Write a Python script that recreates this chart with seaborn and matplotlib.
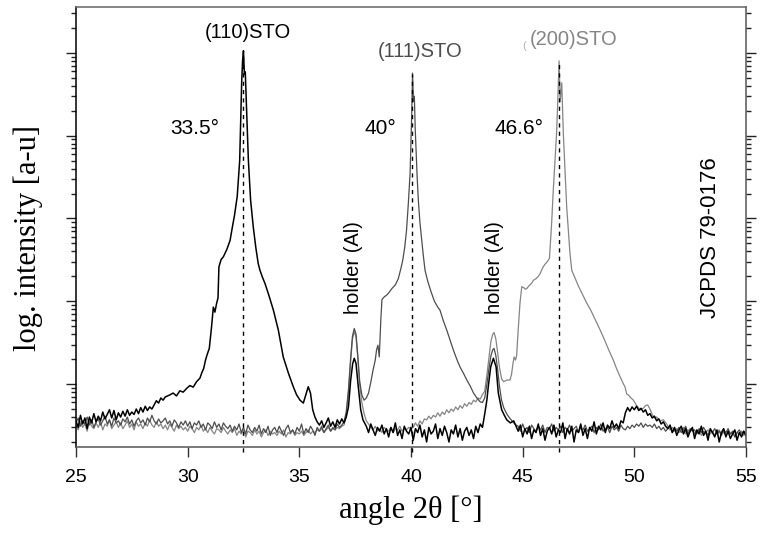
"""
XRD scans of the three STO films (log intensity) with JCPDS positions marked.
"""

import numpy as np
import matplotlib
matplotlib.use("Agg")
import matplotlib.pyplot as plt
import seaborn as sns
from matplotlib.ticker import LogLocator, MultipleLocator, NullFormatter

STEP = 0.1  # step of the flat background runs [deg]

# --- (110) film, black trace ---
black_bg1 = [3.6, 3.0, 4.2, 3.3, 3.9, 2.9, 4.0, 3.4, 4.4, 3.5,
             4.1, 3.6, 4.6, 3.8, 4.3, 4.9, 3.9, 4.8, 3.7, 4.5,
             4.0, 4.7, 4.1, 4.9, 4.2, 4.6, 4.3, 5.0, 4.4, 5.2,
             4.6, 5.4, 4.8, 5.3, 5.0, 5.6, 6.3, 5.9, 6.8, 6.4, 7.0]   # 25.0 - 29.0
black_peak_tt = [29.2, 29.35, 29.5, 29.65, 29.8, 29.96, 30.1, 30.25, 30.4, 30.55,
                 30.63, 30.72, 30.8, 30.88, 30.97, 31.07, 31.12, 31.15, 31.22, 31.3,
                 31.36, 31.4, 31.5, 31.6, 31.75, 31.9, 32.0, 32.1, 32.22, 32.33,
                 32.37, 32.42, 32.46, 32.5, 32.54, 32.58, 32.62, 32.67, 32.72, 32.82,
                 32.94, 33.05, 33.16, 33.24, 33.35, 33.46, 33.65, 33.84, 34.06, 34.28,
                 34.51, 34.73, 34.88, 35.03, 35.18, 35.33, 35.4, 35.5, 35.6, 35.7,
                 35.8]
black_peak_int = [7.4, 7.8, 7.2, 8.3, 8.0, 8.9, 9.6, 9.2, 10.7, 11.8,
                  13.6, 15.5, 19.5, 23, 27, 49, 70, 85, 74, 95,
                  110, 260, 320, 345, 420, 543, 780, 1100, 1850, 5000,
                  12900, 44800, 80000, 106000, 55000, 59000, 30000, 12000, 5000, 1650,
                  785, 450, 285, 236, 195, 165, 115, 78, 45, 21.3,
                  13.6, 9.3, 7.4, 6.4, 5.9, 8.1, 9.3, 7.8, 4.9, 4.0,
                  3.5]
black_bg2 = [3.2, 3.6, 3.0, 3.4, 3.9, 3.1, 3.5, 3.0, 3.7, 3.3, 3.8, 3.4]   # 35.9 - 37.0
black_h1_tt = [37.1, 37.2, 37.3, 37.39, 37.46, 37.54, 37.64, 37.75, 37.85]
black_h1_int = [4.0, 5.3, 11.2, 17.7, 20.5, 17.7, 9.3, 4.9, 3.7]
black_bg3 = [3.1, 2.6, 3.3, 2.8, 2.4, 3.0, 2.7, 3.2, 2.5, 2.9,
             2.3, 3.0, 2.6, 3.4, 2.4, 2.8, 2.2, 3.1, 2.7, 2.5,
             3.0, 2.1, 2.9, 2.6, 3.2, 2.3, 2.8, 2.0, 3.0, 2.5,
             2.7, 3.3, 2.2, 2.9, 2.4, 3.1, 2.6, 2.0, 2.8, 2.5,
             3.2, 2.3, 2.9, 2.1, 2.7, 3.0, 2.4, 2.8, 2.2, 3.1,
             2.6, 3.3, 3.0]   # 38.0 - 43.2
black_h2_tt = [43.31, 43.4, 43.46, 43.57, 43.69, 43.81, 43.91, 44.06, 44.18, 44.29,
               44.45, 44.6, 44.73]
black_h2_int = [4.5, 6.5, 9.3, 16.2, 20.5, 16.2, 7.8, 4.9, 4.2, 3.7,
                3.4, 3.6, 3.0]
black_bg4 = [2.7, 3.2, 2.3, 2.9, 2.5, 3.1, 2.2, 2.8, 2.6, 3.3,
             2.4, 2.9, 2.1, 2.7, 3.0, 2.5, 3.2, 2.3, 2.8, 2.6,
             3.4, 2.2, 2.9, 2.5, 3.1, 2.0, 2.8, 2.6, 3.3, 2.4,
             2.9, 2.2, 3.0, 2.7, 3.5, 2.5, 3.1, 2.8, 3.4, 2.6,
             3.2, 2.9, 3.6, 3.0, 3.3, 2.9, 3.6, 3.4]   # 44.8 - 49.5
black_bump = [4.5, 5.2, 4.7, 5.3, 4.9, 5.4, 4.8, 5.1, 4.6, 4.9,
              4.2, 4.4, 3.9, 4.1, 3.6, 3.8, 3.3, 3.5, 3.1]   # 49.6 - 51.4
black_bg5 = [2.9, 3.2, 2.6, 3.0, 2.4, 2.8, 3.1, 2.5, 2.9, 2.3,
             2.7, 3.0, 2.2, 2.8, 2.5, 3.1, 2.4, 2.7, 2.1, 2.9,
             2.6, 2.3, 2.8, 2.0, 2.6, 2.9, 2.3, 2.7, 2.2, 2.5,
             2.8, 2.1, 2.6, 2.3, 2.7, 2.4]   # 51.5 - 55.0

# --- (111) film, dark grey trace ---
g111_bg1 = [3.4, 3.9, 3.1, 3.6, 3.3, 4.0, 3.2, 3.7, 3.0, 3.5,
            3.8, 3.2, 3.6, 4.1, 3.3, 3.7, 3.1, 3.9, 3.4, 3.6,
            3.2, 3.8, 3.5, 4.0, 3.3, 3.7, 3.1, 3.6, 3.9, 3.4,
            3.7, 3.2, 3.9, 3.5, 4.2, 3.6, 3.3, 3.8, 3.4, 3.6,
            3.9, 3.3, 3.6, 3.1, 3.7, 3.4, 3.0, 3.5, 3.2, 3.6,
            3.1, 3.5, 2.9, 3.4, 3.2, 3.6, 3.0, 3.3, 2.8, 3.4,
            3.2, 2.9, 3.5, 3.0, 3.3, 2.8, 3.4, 3.1, 2.9, 3.2,
            2.7, 3.1, 2.8, 3.3, 2.6, 3.0, 2.5, 3.2, 2.8, 2.6,
            3.0, 2.7, 3.2, 2.5, 2.9, 2.6, 3.1, 2.4, 2.8, 3.0,
            2.6, 3.1, 2.7, 2.4, 2.9, 3.2, 2.6, 2.8, 2.5, 3.0,
            2.7, 3.3, 2.5, 2.9, 2.6, 3.1, 2.8, 2.4, 3.0, 2.7,
            3.1, 2.6, 2.9, 3.2, 2.7, 3.0, 2.8, 3.3, 3.0, 3.2]   # 25.0 - 36.9
g111_peak_tt = [37.0, 37.1, 37.2, 37.3, 37.38, 37.46, 37.54, 37.62, 37.7, 37.8,
                37.9, 38.0, 38.1, 38.2, 38.3, 38.4, 38.46, 38.52, 38.58, 38.65,
                38.7, 38.8, 38.9, 39.0, 39.14, 39.3, 39.43, 39.55, 39.63, 39.72,
                39.8, 39.88, 39.96, 40.0, 40.03, 40.07, 40.11, 40.15, 40.19, 40.23,
                40.28, 40.33, 40.4, 40.48, 40.55, 40.63, 40.75, 40.9, 41.05, 41.2,
                41.3, 41.45, 41.6, 41.75, 41.9, 42.05, 42.2, 42.35, 42.5, 42.65,
                42.8, 42.95, 43.1, 43.2, 43.3, 43.4, 43.5, 43.58, 43.66, 43.72,
                43.8, 43.88, 43.96, 44.05, 44.15, 44.3, 44.45, 44.6, 44.7]
g111_peak_int = [3.5, 4.6, 8.5, 21, 38, 47, 40, 22, 11, 7.4,
                 6.4, 6.8, 7.8, 10.5, 14.7, 19.5, 26, 29.5, 21.3, 60,
                 105, 113, 118, 126, 142, 158, 187, 250, 312, 450,
                 716, 1500, 3500, 9000, 17000, 57000, 26000, 30000, 12000, 6600,
                 3000, 1650, 900, 543, 360, 236, 175, 130, 100, 85,
                 78, 58, 45, 34, 25.7, 20, 16, 13.5, 11.2, 9.5,
                 7.8, 6.8, 6.1, 6.0, 6.8, 10, 16, 22, 26, 27,
                 22, 15, 9.5, 6.5, 5.2, 4.3, 3.8, 3.4, 3.2]
g111_bg2 = [3.1, 2.7, 3.3, 2.8, 3.0, 2.6, 3.2, 2.9, 2.7, 3.1,
            2.8, 3.2, 2.6, 3.0, 2.9, 3.3, 2.7, 3.0, 2.8, 3.1,
            2.6, 3.0, 2.8, 3.2, 2.7, 2.9, 3.1, 2.6, 3.0, 2.8,
            3.2, 2.7, 2.9, 3.1, 2.6, 3.0, 2.8, 3.3, 2.7, 2.9,
            3.0, 2.6, 3.1, 2.8, 3.0, 2.7, 3.2, 2.9, 2.8, 3.1,
            2.9, 3.2, 3.0, 3.3, 3.1, 3.4, 3.0, 3.3, 3.1, 3.2,
            3.0, 3.3, 2.9, 3.1, 2.8, 3.0, 2.7, 2.9, 3.1, 2.6,
            2.9, 2.7, 3.0, 2.6, 2.8, 3.1, 2.5, 2.9, 2.7, 2.8,
            2.5, 2.9, 2.6, 3.0, 2.7, 2.4, 2.8, 2.6, 2.9, 2.5,
            2.7, 2.4, 2.8, 2.6, 2.9, 2.5, 2.7, 2.3, 2.6, 2.8,
            2.5, 2.7, 2.4]   # 44.8 - 55.0

# --- (200) film, light grey trace ---
g200_bg1 = [3.2, 2.8, 3.5, 3.0, 3.3, 2.7, 3.6, 3.1, 2.9, 3.4,
            3.0, 3.5, 2.8, 3.3, 3.1, 3.7, 2.9, 3.2, 3.5, 3.0,
            3.4, 2.9, 3.2, 3.6, 3.0, 3.3, 2.8, 3.5, 3.1, 3.3,
            2.9, 3.4, 3.1, 3.7, 3.2, 3.0, 3.5, 3.1, 3.3, 2.9,
            3.2, 2.8, 3.3, 3.0, 2.7, 3.2, 2.9, 3.1, 2.8, 3.0,
            2.7, 3.1, 2.9, 2.6, 3.0, 2.8, 3.2, 2.7, 2.9, 2.6,
            3.0, 2.7, 2.5, 2.9, 2.8, 2.6, 3.0, 2.7, 2.5, 2.8,
            2.6, 2.9, 2.4, 2.7, 2.5, 2.8, 2.3, 2.7, 2.6, 2.4,
            2.8, 2.5, 2.7, 2.3, 2.6, 2.8, 2.4, 2.7, 2.5, 2.6,
            2.4, 2.7, 2.5, 2.8, 2.3, 2.6, 2.5, 2.8, 2.4, 2.6,
            2.5, 2.7, 2.4, 2.6, 2.8, 2.5, 2.7, 2.6, 2.8, 2.7,
            2.9, 2.6, 2.8, 3.0, 2.7, 2.9, 2.8, 3.0, 2.9, 3.1]   # 25.0 - 36.9
g200_h1_tt = [37.0, 37.1, 37.2, 37.3, 37.38, 37.46, 37.54, 37.62, 37.7, 37.8,
              37.9, 38.0, 38.1, 38.2]
g200_h1_int = [3.2, 4.2, 8.0, 19, 35, 43, 37, 20, 10, 6.0,
               4.4, 3.6, 3.3, 3.0]
g200_bg2 = [2.8, 3.1, 2.7, 2.9, 2.6, 3.0, 2.8, 2.7, 3.0, 2.6,
            2.9, 2.8, 3.1, 2.7, 2.9, 2.8, 3.0, 2.9]   # 38.3 - 40.0
g200_peak_tt = [40.1, 40.2, 40.3, 40.4, 40.5, 40.6, 40.7, 40.8, 40.9, 41.0,
                41.1, 41.2, 41.3, 41.4, 41.5, 41.6, 41.7, 41.8, 41.9, 42.0,
                42.1, 42.2, 42.3, 42.4, 42.5, 42.6, 42.7, 42.8, 42.9, 43.0,
                43.1, 43.2, 43.3, 43.4, 43.5, 43.58, 43.66, 43.72, 43.8, 43.88,
                43.96, 44.06, 44.15, 44.3, 44.43, 44.5, 44.57, 44.62, 44.68, 44.73,
                44.8, 44.88, 44.96, 45.05, 45.12, 45.18, 45.3, 45.4, 45.48, 45.6,
                45.7, 45.78, 45.9, 46.0, 46.1, 46.2, 46.3, 46.37, 46.45, 46.52,
                46.58, 46.63, 46.68, 46.75, 46.82, 46.9, 46.97, 47.05, 47.12, 47.2,
                47.35, 47.5, 47.7, 47.87, 48.05, 48.25, 48.47, 48.65, 48.85, 49.06,
                49.2, 49.35, 49.5, 49.58, 49.66, 49.73, 49.85, 49.96, 50.1, 50.26,
                50.4, 50.5, 50.6, 50.7, 50.8, 50.9, 51.0, 51.15, 51.3, 51.45]
g200_peak_int = [3.0, 3.4, 3.1, 3.6, 3.3, 3.8, 3.7, 4.1, 3.8, 4.2,
                 4.0, 4.5, 4.1, 4.6, 4.3, 4.9, 4.5, 5.0, 4.7, 5.3,
                 4.9, 5.5, 5.1, 5.8, 5.4, 6.0, 5.7, 6.4, 6.1, 6.8,
                 6.6, 7.5, 8.2, 13, 22, 33, 40, 42, 35, 24,
                 16, 11.5, 10.7, 11.2, 11.2, 13, 18, 21.3, 19.5, 22,
                 45, 95, 150, 146, 140, 142, 156, 165, 179, 188,
                 200, 216, 255, 280, 300, 330, 900, 2174, 5000, 10800,
                 30000, 80000, 25700, 43500, 10800, 3500, 1400, 700, 375, 236,
                 190, 152, 118, 95, 78, 60, 45, 35, 26, 19.5,
                 15.5, 12.5, 10.2, 9.3, 7.6, 7.4, 6.8, 6.4, 5.5, 4.9,
                 5.1, 5.5, 5.6, 5.0, 4.3, 3.9, 4.0, 3.6, 3.7, 3.3]
g200_bg3 = [3.1, 2.8, 3.0, 2.7, 2.9, 2.6, 2.8, 3.0, 2.5, 2.8,
            2.7, 2.9, 2.5, 2.7, 2.8, 2.4, 2.7, 2.6, 2.8, 2.5,
            2.7, 2.4, 2.6, 2.8, 2.5, 2.6, 2.4, 2.7, 2.5, 2.6,
            2.3, 2.6, 2.5, 2.7, 2.4, 2.5]   # 51.5 - 55.0

# JCPDS 79-0176 reflections as drawn, with their labels
ref_pos = [32.5, 40.03, 46.62]
ref_top = [1.0e5, 5.5e4, 7.5e4]
ref_angle_labels = ["33.5°", "40°", "46.6°"]
ref_hkl_labels = ["(110)STO", "(111)STO", "(200)STO"]
holder_pos = [37.43, 43.76]

C_BLACK = "#000000"
C_DARK = "#4d4d4d"
C_LIGHT = "#858585"


def scan(start, counts):
    """2-theta positions of a background run recorded with STEP."""
    return start + STEP * np.arange(len(counts))


def trace(parts):
    """Join (2theta, counts) pieces into one curve."""
    tt = np.concatenate([np.asarray(p[0], float) for p in parts])
    counts = np.concatenate([np.asarray(p[1], float) for p in parts])
    return tt, counts


black = trace([(scan(25.0, black_bg1), black_bg1),
               (black_peak_tt, black_peak_int),
               (scan(35.9, black_bg2), black_bg2),
               (black_h1_tt, black_h1_int),
               (scan(38.0, black_bg3), black_bg3),
               (black_h2_tt, black_h2_int),
               (scan(44.8, black_bg4), black_bg4),
               (scan(49.6, black_bump), black_bump),
               (scan(51.5, black_bg5), black_bg5)])
g111 = trace([(scan(25.0, g111_bg1), g111_bg1),
              (g111_peak_tt, g111_peak_int),
              (scan(44.8, g111_bg2), g111_bg2)])
g200 = trace([(scan(25.0, g200_bg1), g200_bg1),
              (g200_h1_tt, g200_h1_int),
              (scan(38.3, g200_bg2), g200_bg2),
              (g200_peak_tt, g200_peak_int),
              (scan(51.5, g200_bg3), g200_bg3)])

sns.set_theme(style="ticks")
plt.rcParams["font.family"] = ["Liberation Sans", "DejaVu Sans"]
plt.rcParams.update({"text.color": "black", "axes.labelcolor": "black",
                     "xtick.color": "black", "ytick.color": "black"})

fig = plt.figure(figsize=(7.62, 5.37), dpi=100)
ax = fig.add_axes([0.0997, 0.1676, 0.8793, 0.8194])

# 1. the three scans (light first so the black one sits on top)
for (tt, counts), col, lw in [(g200, C_LIGHT, 0.9), (g111, C_DARK, 0.9), (black, C_BLACK, 1.1)]:
    sns.lineplot(x=tt, y=counts, ax=ax, color=col, lw=lw, estimator=None, sort=False)

ax.set_yscale("log")
ax.set_xlim(25, 55)
ax.set_ylim(1.74, 3.58e5)

# 2. reference positions
ax.vlines(ref_pos, 1.5, ref_top, colors=C_BLACK, linestyles=(0, (3, 3)),
          lw=1.0, clip_on=False, zorder=5)

# 3. annotations
tr = ax.get_xaxis_transform()
ax.text(32.68, 0.941, ref_hkl_labels[0], transform=tr, ha="center", va="center",
        fontsize=14.5, color=C_BLACK)
ax.text(40.4, 0.898, ref_hkl_labels[1], transform=tr, ha="center", va="center",
        fontsize=14.5, color=C_DARK)
ax.text(47.26, 0.926, ref_hkl_labels[2], transform=tr, ha="center", va="center",
        fontsize=14.5, color=C_LIGHT)
ax.text(45.08, 0.912, "(", transform=tr, ha="center", va="center",
        fontsize=8, color="#b0b0b0")
for x, lab in zip([30.31, 38.61, 44.82], ref_angle_labels):
    ax.text(x, 0.724, lab, transform=tr, ha="center", va="center",
            fontsize=15, color=C_BLACK)
for x in holder_pos:
    ax.text(x, 0.407, "holder (Al)", transform=tr, ha="center", va="center",
            rotation=90, fontsize=14.5, color=C_BLACK)
ax.text(53.39, 0.476, "JCPDS 79-0176", transform=tr, ha="center", va="center",
        rotation=90, fontsize=16, color=C_BLACK)

# 4. axes styling
ax.xaxis.set_major_locator(MultipleLocator(5))
ax.yaxis.set_major_locator(LogLocator(base=10, numticks=20))
ax.yaxis.set_minor_locator(LogLocator(base=10, subs=np.arange(2, 10), numticks=20))
ax.yaxis.set_major_formatter(NullFormatter())
ax.yaxis.set_minor_formatter(NullFormatter())
ax.tick_params(axis="x", which="major", direction="out", length=7, width=1,
               labelsize=14, pad=9, color="#333333", labelcolor="black")
ax.tick_params(axis="y", which="major", direction="out", length=7.2, width=1,
               left=True, right=True, labelleft=False, color="#222222")
ax.tick_params(axis="y", which="minor", direction="out", length=3.6, width=1,
               left=True, right=True, color="#222222")
for side, col in [("left", "#000000"), ("right", "#555555"),
                  ("top", "#666666"), ("bottom", "#555555")]:
    ax.spines[side].set_color(col)
    ax.spines[side].set_linewidth(1.1)

serif = ["Liberation Serif", "DejaVu Serif"]
ax.set_xlabel("angle 2θ [°]", fontsize=22, family=serif, color="black")
ax.set_ylabel("log. intensity [a-u]", fontsize=22, family=serif, color="black")
ax.xaxis.set_label_coords(0.5, -0.11)
ax.yaxis.set_label_coords(-0.049, 0.475)

fig.savefig("out.png", dpi=100)
